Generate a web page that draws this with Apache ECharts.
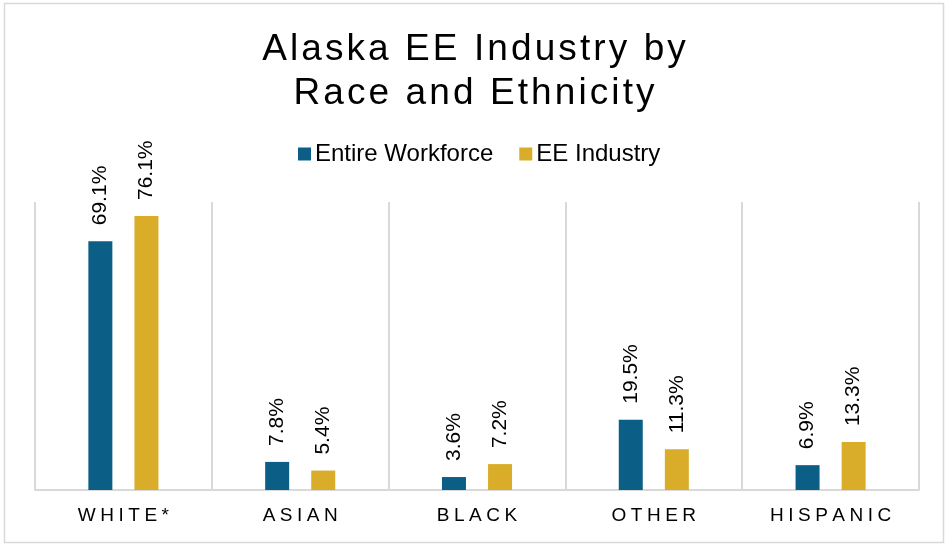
<!DOCTYPE html>
<html>
<head>
<meta charset="UTF-8">
<title>Alaska EE Industry by Race and Ethnicity</title>
<script src="https://cdn.jsdelivr.net/npm/echarts@6/dist/echarts.min.js"></script>
<style>
  html, body { margin: 0; padding: 0; background: #fff; }
  #chart { width: 948px; height: 545px; }
</style>
</head>
<body>
<div id="chart"></div>
<script>
var categories = ['WHITE*', 'ASIAN', 'BLACK', 'OTHER', 'HISPANIC'];
var workforce = [69.1, 7.8, 3.6, 19.5, 6.9];
var eeIndustry = [76.1, 5.4, 7.2, 11.3, 13.3];
var seriesNames = ['Entire Workforce', 'EE Industry'];

// spread letters out a bit, like the original
function spaced(s, sp) {
  return s.split('').join(sp);
}

var chart = echarts.init(document.getElementById('chart'));

var labelStyle = {
  show: true,
  position: 'top',
  rotate: 90,
  align: 'left',
  verticalAlign: 'middle',
  distance: 16,
  fontFamily: 'Liberation Sans',
  fontSize: 21,
  color: '#000',
  formatter: function (p) { return p.value.toFixed(1) + '%'; }
};

chart.setOption({
  animation: false,
  graphic: [{
    type: 'rect',
    shape: { x: 4.5, y: 3.5, width: 939, height: 539 },
    style: { fill: 'none', stroke: '#d9d9d9', lineWidth: 1.5 },
    silent: true
  }],
  title: {
    text: spaced('Alaska EE Industry by', '\u200A') + '\n' + spaced('Race and Ethnicity', '\u200A'),
    left: 'center',
    top: 23,
    textStyle: {
      fontFamily: 'Liberation Sans',
      fontSize: 37,
      fontWeight: 'normal',
      color: '#000',
      lineHeight: 44
    }
  },
  legend: {
    data: seriesNames,
    top: 137,
    left: 293,
    itemWidth: 13,
    itemHeight: 13,
    itemGap: 26,
    icon: 'rect',
    textStyle: { fontFamily: 'Liberation Sans', fontSize: 24, color: '#000', padding: [0, 0, 0, -1] }
  },
  grid: { left: 35, right: 29, top: 202, bottom: 55 },
  xAxis: {
    type: 'category',
    data: categories,
    axisLine: { lineStyle: { color: '#d9d9d9', width: 2 } },
    axisTick: { show: false },
    splitLine: { show: true, interval: 0, lineStyle: { color: '#d9d9d9', width: 2 } },
    axisLabel: {
      interval: 0,
      margin: 16,
      fontFamily: 'Liberation Sans',
      fontSize: 19,
      color: '#000',
      rich: { g: { width: 4.5 } },
      formatter: function (v) { return spaced(v, '{g| }'); }
    }
  },
  yAxis: {
    type: 'value',
    min: 0,
    max: 80,
    show: false,
    splitLine: { show: false }
  },
  series: [{
    name: seriesNames[0],
    type: 'bar',
    data: workforce,
    barWidth: 24,
    barGap: '92%',
    itemStyle: { color: '#0b5e86' },
    label: labelStyle
  }, {
    name: seriesNames[1],
    type: 'bar',
    data: eeIndustry,
    barWidth: 24,
    barGap: '92%',
    itemStyle: { color: '#d9ad2a' },
    label: labelStyle
  }]
});
</script>
</body>
</html>
